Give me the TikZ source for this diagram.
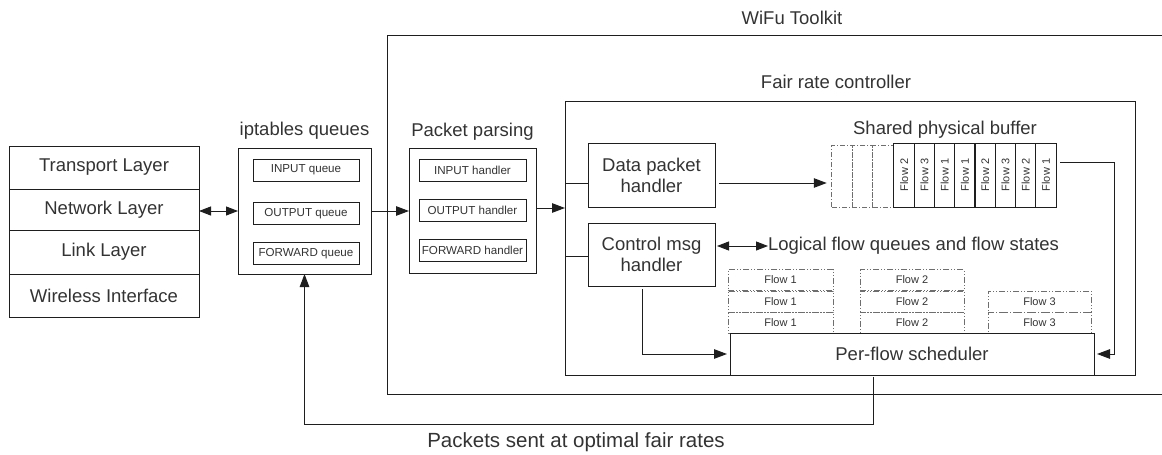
\documentclass[tikz,border=0pt]{standalone}
\usepackage{fontspec}
\setmainfont{Liberation Sans}
\usetikzlibrary{arrows.meta}
\definecolor{txtc}{RGB}{51,51,51}
\definecolor{linec}{RGB}{30,30,30}
\definecolor{dashc}{RGB}{110,110,110}
\newcommand\txtL{\fontsize{18.5}{21}\selectfont}
\newcommand\txtS{\fontsize{11.6}{13}\selectfont}
\newcommand\txtF{\fontsize{11}{13}\selectfont}
\newcommand\txtP{\fontsize{20.5}{23}\selectfont}
\begin{document}
\begin{tikzpicture}[x=1pt,y=-1pt,
  every node/.style={text=txtc, inner sep=0pt, outer sep=0pt},
  box/.style={draw=linec, line width=1pt, rectangle},
  layerbox/.style={box, minimum width=190pt, font=\txtL},
  smallbox/.style={box, minimum height=22pt, font=\txtS},
  title/.style={font=\txtL},
  slotbox/.style={box, minimum width=20.25pt, minimum height=64pt, font=\txtF},
  ghostslot/.style={draw=dashc, line width=0.8pt, dash pattern=on 5pt off 2pt on 1pt off 2pt, minimum width=20.5pt, minimum height=62pt},
  qbox/.style={draw=dashc, line width=0.8pt, dash pattern=on 6pt off 2pt on 1pt off 2pt on 1pt off 2pt, minimum height=21pt, font=\txtF},
  conn/.style={draw=linec, line width=1pt},
  arr/.style={conn, -{Triangle[length=13pt,width=9.5pt]}},
  darr/.style={conn, {Triangle[length=12pt,width=9pt]}-{Triangle[length=12pt,width=9pt]}},
]
\useasboundingbox (0,0) rectangle (1162,455);

% protocol stack
\node[layerbox, minimum height=43pt] (tl) at (104,167.5) {Transport Layer};
\node[layerbox, minimum height=41pt] (nl) at (104,209.5) {Network Layer};
\node[layerbox, minimum height=44pt] (ll) at (104,252) {Link Layer};
\node[layerbox, minimum height=43pt] (wi) at (104,295.5) {Wireless Interface};

% iptables queues
\node[box, minimum width=133pt, minimum height=126pt] (ipt) at (304.5,211) {};
\node[title] (iptt) at (304.5,131) {iptables queues};
\node[smallbox, minimum width=106pt] (iq) at (306,170) {INPUT queue};
\node[smallbox, minimum width=106pt] (oq) at (306,213.5) {OUTPUT queue};
\node[smallbox, minimum width=106pt] (fq) at (306,253.5) {FORWARD queue};

% packet parsing
\node[box, minimum width=127pt, minimum height=125pt] (pp) at (472.5,210.5) {};
\node[title] (ppt) at (472.5,132) {Packet parsing};
\node[smallbox, minimum width=107pt] (ih) at (472.5,170) {INPUT handler};
\node[smallbox, minimum width=107pt] (oh) at (472.5,210) {OUTPUT handler};
\node[smallbox, minimum width=107pt] (fh) at (472.5,250) {FORWARD handler};

% WiFu toolkit (open to the right)
\draw[conn] (1170,35) -- (387,35) -- (387,394) -- (1170,394);
\node[title] (wft) at (792,18) {WiFu Toolkit};

% fair rate controller
\node[box, minimum width=570pt, minimum height=274pt] (frc) at (850,238) {};
\node[title] (frct) at (836,82) {Fair rate controller};

\node[box, minimum width=127pt, minimum height=64pt, font=\txtL, align=center] (dph) at (651.5,175) {Data packet\\handler};
\node[box, minimum width=127pt, minimum height=63pt, font=\txtL, align=center] (cmh) at (651.5,254.5) {Control msg\\handler};

% shared physical buffer
\node[title] (spbt) at (945,130) {Shared physical buffer};
\node[ghostslot] (g1) at (842,176) {};
\node[ghostslot] (g2) at (862.5,176) {};
\node[ghostslot] (g3) at (883,176) {};
\node[slotbox] (s1) at (904.1,175) {\rotatebox{90}{Flow 2}};
\node[slotbox] (s2) at (924.4,175) {\rotatebox{90}{Flow 3}};
\node[slotbox] (s3) at (944.6,175) {\rotatebox{90}{Flow 1}};
\node[slotbox] (s4) at (964.9,175) {\rotatebox{90}{Flow 1}};
\node[slotbox] (s5) at (985.1,175) {\rotatebox{90}{Flow 2}};
\node[slotbox] (s6) at (1005.4,175) {\rotatebox{90}{Flow 3}};
\node[slotbox] (s7) at (1025.6,175) {\rotatebox{90}{Flow 2}};
\node[slotbox] (s8) at (1045.9,175) {\rotatebox{90}{Flow 1}};

% logical flow queues
\node[title, anchor=west] (lfq) at (768,246) {Logical flow queues and flow states};
\node[qbox, minimum width=105pt] (q11) at (780.5,280) {Flow 1};
\node[qbox, minimum width=105pt] (q12) at (780.5,301.5) {Flow 1};
\node[qbox, minimum width=105pt] (q13) at (780.5,322.5) {Flow 1};
\node[qbox, minimum width=104pt] (q21) at (912,280) {Flow 2};
\node[qbox, minimum width=104pt] (q22) at (912,301.5) {Flow 2};
\node[qbox, minimum width=104pt] (q23) at (912,322.5) {Flow 2};
\node[qbox, minimum width=103pt] (q32) at (1039.5,301.5) {Flow 3};
\node[qbox, minimum width=103pt] (q33) at (1039.5,322.5) {Flow 3};

% scheduler
\node[box, fill=white, minimum width=364pt, minimum height=42pt, font=\txtL] (pfs) at (912,354) {Per-flow scheduler};

% bottom label
\node[font=\txtP] (pkt) at (576,442) {Packets sent at optimal fair rates};

% helper coordinates
\coordinate (yd) at (0,183);
\coordinate (yc) at (0,256);
\coordinate (bo) at (1114,162);
\coordinate (pk) at (873,424);

% connectors
\draw[darr] (nl.east |- ipt.west) -- (ipt.west);
\draw[arr] (ipt.east) -- (ipt.east -| pp.west);
\draw[arr] (pp.east |- 0,208) -- (frc.west |- 0,208);
\draw[conn] (frc.west |- yd) -- (dph.west |- yd);
\draw[conn] (frc.west |- yc) -- (cmh.west |- yc);
\draw[arr, shorten <=4pt, shorten >=5pt] (dph.east |- yd) -- (g1.west |- yd);
\draw[darr, shorten <=2pt] (cmh.east |- lfq.west) -- (lfq.west);
\draw[arr, shorten <=4pt, shorten >=3pt] (s8.east |- bo) -- (bo) |- (pfs.east);
\draw[arr, shorten <=3pt, shorten >=3pt] ([xshift=-9.5pt]cmh.south) |- (pfs.west);
\draw[arr, shorten <=2pt] (pfs.south -| pk) -- (pk) -| (ipt.south);
\end{tikzpicture}
\end{document}
